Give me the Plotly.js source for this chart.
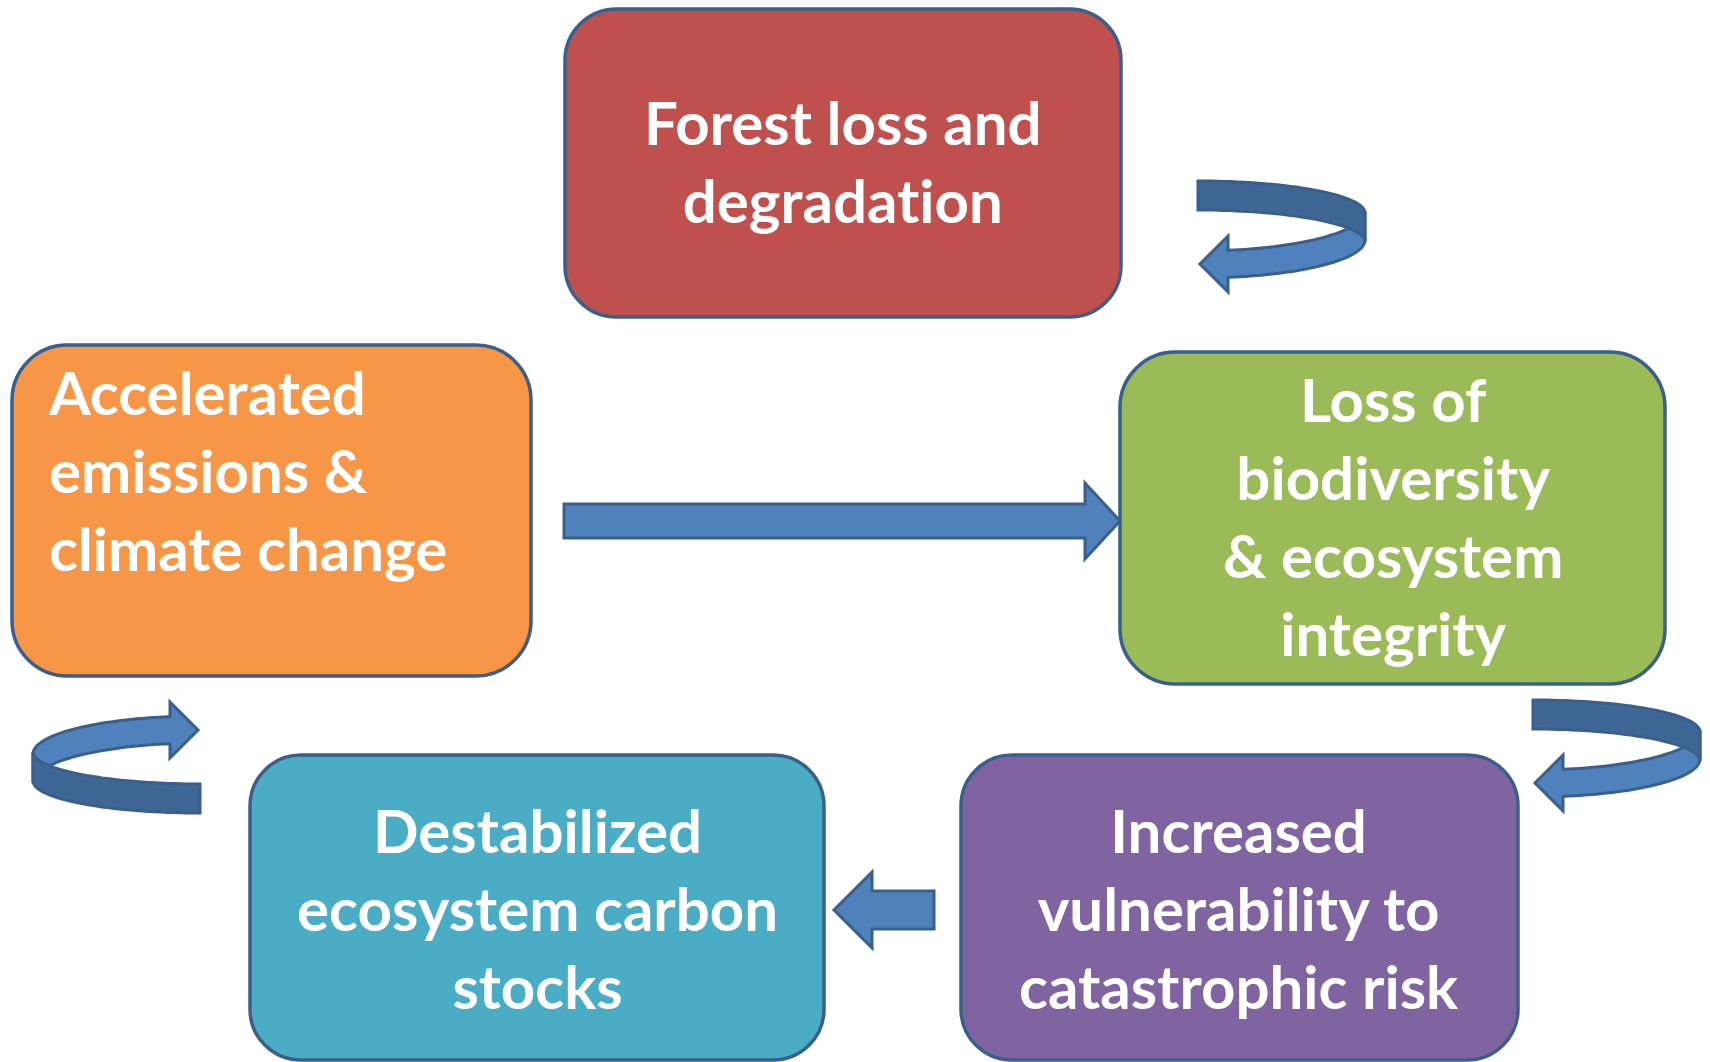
<!DOCTYPE html>
<html>
<head>
<meta charset="utf-8">
<script src="https://cdn.plot.ly/plotly-3.0.1.min.js"></script>
<style>
html,body{margin:0;padding:0;background:#fff;}
#chart{width:1710px;height:1062px;}
text{font-variant-ligatures:none;font-feature-settings:"liga" 0, "clig" 0;}
</style>
</head>
<body>
<div id="chart"></div>
<script>
// ---- content ----
const nodeNames = ["forest", "emissions", "biodiversity", "carbon", "vulnerability"];
const nodeLabels = [
  ["Forest loss and", "degradation"],
  ["Accelerated", "emissions &", "climate change"],
  ["Loss of", "biodiversity", "& ecosystem", "integrity"],
  ["Destabilized", "ecosystem carbon", "stocks"],
  ["Increased", "vulnerability to", "catastrophic risk"]
];
const nodeColors = ["#c0504d", "#f79646", "#9bbb59", "#4bacc6", "#8064a2"];
const straightLinks = [["emissions", "biodiversity"], ["vulnerability", "carbon"]];
const loopLinks = ["forest", "biodiversity", "emissions"];

// ---- layout (positions / sizes / styles) ----
const W = 1710, H = 1062;
const OUTLINE = "#3a5f8b", ARROW = "#4f81bd", ARROW_DARK = "#3e6796";
const boxes = {
  forest:        {x0: 565, y0: 9,   x1: 1121, y1: 317, tx: 843,  ty: 161, align: "center"},
  emissions:     {x0: 12,  y0: 345, x1: 531,  y1: 676, tx: 46,   ty: 470, align: "left"},
  biodiversity:  {x0: 1120,y0: 352, x1: 1665, y1: 684, tx: 1393, ty: 516, align: "center"},
  carbon:        {x0: 250, y0: 755, x1: 824,  y1: 1060, tx: 537, ty: 908, align: "center"},
  vulnerability: {x0: 961, y0: 755, x1: 1518, y1: 1060, tx: 1239, ty: 908, align: "center"}
};
const straightGeom = {
  "emissions>biodiversity": {from: 564, to: 1120, cy: 521, half: 17, headLen: 35, headHalf: 38},
  "vulnerability>carbon":   {from: 934, to: 834,  cy: 910, half: 19, headLen: 38, headHalf: 38}
};
const loopGeom = {
  forest:       {ox: 1197, oy: 180, flip: false},
  biodiversity: {ox: 1532, oy: 699, flip: false},
  emissions:    {ox: 201,  oy: 814, flip: true}
};

function roundRect(b) {
  const r = 0.1667 * Math.min(b.x1 - b.x0, b.y1 - b.y0), k = 0.4477 * r;
  const {x0, y0, x1, y1} = b;
  return `M${x0 + r},${y0} L${x1 - r},${y0} C${x1 - k},${y0} ${x1},${y0 + k} ${x1},${y0 + r} ` +
         `L${x1},${y1 - r} C${x1},${y1 - k} ${x1 - k},${y1} ${x1 - r},${y1} ` +
         `L${x0 + r},${y1} C${x0 + k},${y1} ${x0},${y1 - k} ${x0},${y1 - r} ` +
         `L${x0},${y0 + r} C${x0},${y0 + k} ${x0 + k},${y0} ${x0 + r},${y0} Z`;
}
function polyPath(pts) {
  return "M" + pts.map(p => p[0].toFixed(1) + "," + p[1].toFixed(1)).join(" L") + " Z";
}
function ell(cx, cy, a, b, t0, t1, n) {
  const out = [];
  for (let i = 0; i <= n; i++) {
    const t = (t0 + (t1 - t0) * i / n) * Math.PI / 180;
    out.push([cx + a * Math.cos(t), cy + b * Math.sin(t)]);
  }
  return out;
}
function loopShapes(g) {
  const a = 167, tEnd = Math.acos(30 / a) * 180 / Math.PI;
  const dark = [].concat(
    ell(1, 33, a, 32, -90, 0, 40),
    ell(1, 62, a, 32, 0, -90, 40)
  );
  const light = [].concat(
    ell(1, 31, a, 40, 0, tEnd, 40),
    [[31, 56], [3, 84], [31, 112]],
    ell(1, 60, a, 38, tEnd, 0, 40)
  );
  const tr = p => g.flip ? [g.ox - p[0], g.oy - p[1]] : [g.ox + p[0], g.oy + p[1]];
  return [
    {type: "path", path: polyPath(light.map(tr)), fillcolor: ARROW, line: {color: OUTLINE, width: 3}, layer: "above"},
    {type: "path", path: polyPath(dark.map(tr)), fillcolor: ARROW_DARK, line: {color: OUTLINE, width: 3}, layer: "above"}
  ];
}
function straightShape(g) {
  const d = Math.sign(g.to - g.from);
  const hb = g.to - d * g.headLen;
  const pts = [[g.from, g.cy - g.half], [hb, g.cy - g.half], [hb, g.cy - g.headHalf], [g.to, g.cy],
               [hb, g.cy + g.headHalf], [hb, g.cy + g.half], [g.from, g.cy + g.half]];
  return {type: "path", path: polyPath(pts), fillcolor: ARROW, line: {color: OUTLINE, width: 3}, layer: "above"};
}

const shapes = [], annotations = [];
nodeNames.forEach((name, i) => {
  const b = boxes[name];
  shapes.push({type: "path", path: roundRect(b), fillcolor: nodeColors[i], line: {color: OUTLINE, width: 3.5}, layer: "above"});
  annotations.push({
    x: b.tx, y: b.ty, xref: "x", yref: "y", showarrow: false,
    text: nodeLabels[i].join("<br>"), align: b.align,
    xanchor: b.align === "left" ? "left" : "center", yanchor: "middle",
    font: {family: "Lato, 'Open Sans', sans-serif", size: 60, color: "#ffffff", weight: 700}
  });
});
straightLinks.forEach(l => shapes.push(straightShape(straightGeom[l[0] + ">" + l[1]])));
loopLinks.forEach(n => loopShapes(loopGeom[n]).forEach(s => shapes.push(s)));

const layout = {
  width: W, height: H,
  margin: {l: 0, r: 0, t: 0, b: 0},
  paper_bgcolor: "#ffffff", plot_bgcolor: "#ffffff",
  xaxis: {range: [0, W], visible: false, fixedrange: true},
  yaxis: {range: [H, 0], visible: false, fixedrange: true},
  showlegend: false,
  shapes: shapes,
  annotations: annotations
};
Plotly.newPlot("chart", [], layout, {staticPlot: true, displayModeBar: false});
</script>
</body>
</html>
